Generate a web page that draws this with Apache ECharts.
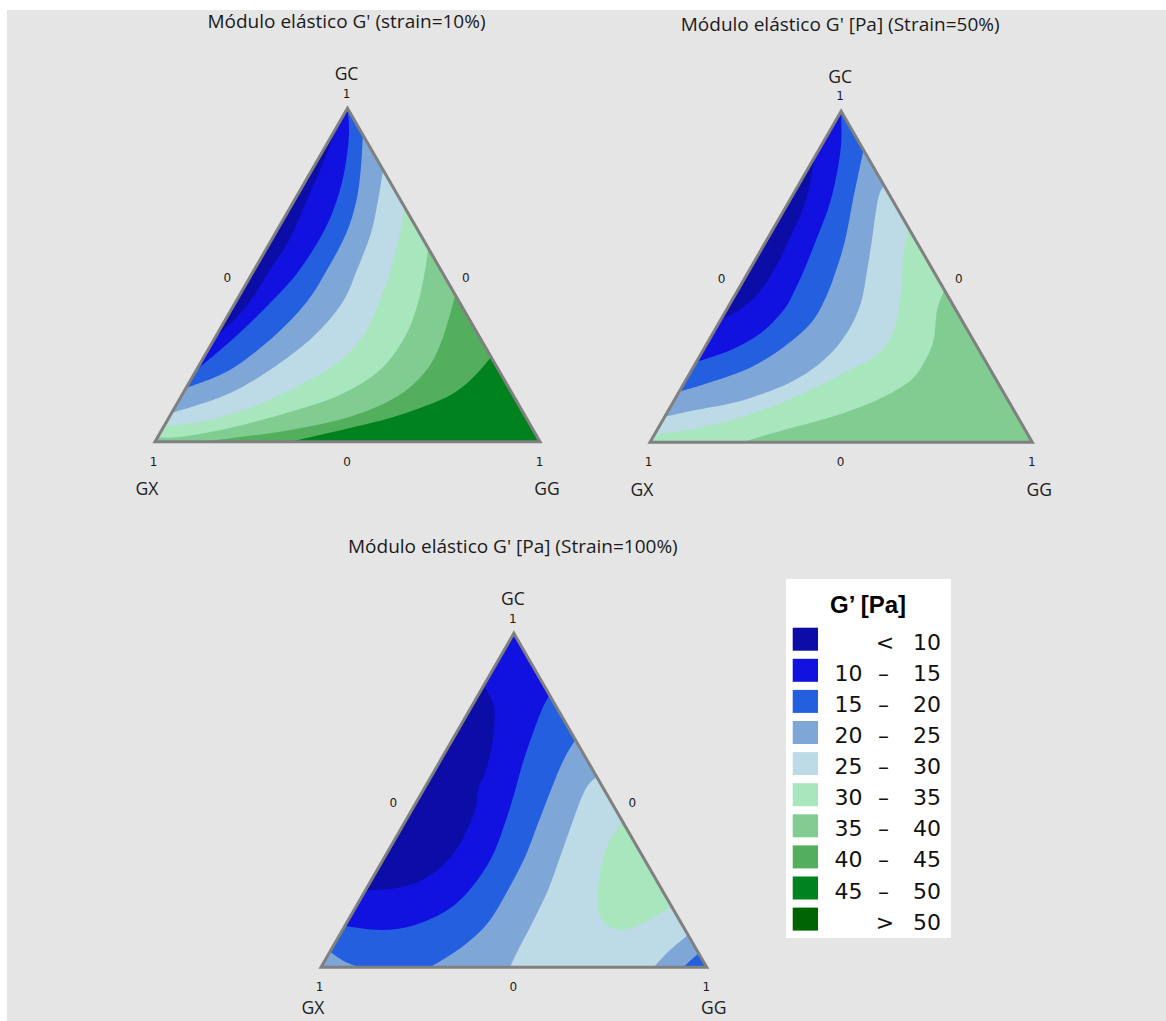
<!DOCTYPE html>
<html>
<head>
<meta charset="utf-8">
<title>Módulo elástico G'</title>
<script src="https://cdn.jsdelivr.net/npm/echarts/dist/echarts.min.js"></script>
<style>
  html, body { margin: 0; padding: 0; background: #ffffff; }
  #chart { width: 1166px; height: 1021px; }
</style>
</head>
<body>
<div id="chart"></div>
<script>
// ---------------------------------------------------------------
// Mixture compositions are written as [GX, GG, GC] fractions.
// ---------------------------------------------------------------
const V_GX = [1, 0, 0];
const V_GG = [0, 1, 0];
const V_GC = [0, 0, 1];

// G' [Pa] classes
const legendTitle = 'G’ [Pa]';
const legendLow  = ['', '10', '15', '20', '25', '30', '35', '40', '45', ''];
const legendSep  = ['<', '–', '–', '–', '–', '–', '–', '–', '–', '>'];
const legendHigh = ['10', '15', '20', '25', '30', '35', '40', '45', '50', '50'];
const bandColors = ['#0c0ca6', '#1111e0', '#245fe0', '#7ea7d8', '#bddbe6',
                    '#a8e6bd', '#81cd91', '#53ae5d', '#00821f', '#006400'];

const plotTitles = [
  "Módulo elástico G' (strain=10%)",
  "Módulo elástico G' [Pa] (Strain=50%)",
  "Módulo elástico G' [Pa] (Strain=100%)"
];
const vertexNames = ['GX', 'GG', 'GC'];
const vertexTicks = ['1', '1', '1'];
const edgeTicks   = ['0', '0', '0'];

// ---- strain 10 %: iso-G' lines (10, 15, ..., 45 Pa) ----
const s10_c10 = [[0.059,0,0.941],[0.138,0.017,0.845],[0.243,0.032,0.725],[0.349,0.046,0.605],[0.444,0.041,0.515],[0.538,0.037,0.425],[0.612,0.023,0.365],[0.686,0,0.314]];
const s10_c15 = [[0,0,1],[0.033,0.041,0.926],[0.094,0.082,0.824],[0.165,0.110,0.725],[0.251,0.123,0.626],[0.374,0.117,0.509],[0.493,0.091,0.416],[0.635,0.051,0.314],[0.785,0,0.215]];
const s10_c20 = [[0,0.08,0.92],[0.053,0.123,0.824],[0.114,0.161,0.725],[0.19,0.184,0.626],[0.296,0.189,0.515],[0.4,0.184,0.416],[0.536,0.150,0.314],[0.698,0.087,0.215],[0.839,0,0.161]];
const s10_c25 = [[0,0.185,0.815],[0.058,0.217,0.725],[0.126,0.248,0.626],[0.218,0.267,0.515],[0.306,0.278,0.416],[0.433,0.253,0.314],[0.594,0.191,0.215],[0.746,0.114,0.14],[0.914,0,0.086]];
const s10_c30 = [[0,0.299,0.701],[0.051,0.323,0.626],[0.13,0.355,0.515],[0.21,0.374,0.416],[0.305,0.381,0.314],[0.409,0.355,0.236],[0.538,0.292,0.17],[0.703,0.196,0.101],[0.854,0.087,0.059],[0.953,0,0.047]];
const s10_c35 = [[0,0.419,0.581],[0.041,0.444,0.515],[0.109,0.475,0.416],[0.194,0.492,0.314],[0.308,0.477,0.215],[0.45,0.41,0.14],[0.605,0.306,0.089],[0.785,0.174,0.041],[0.928,0.058,0.014],[0.987,0,0.013]];
const s10_c40 = [[0,0.56,0.44],[0.094,0.591,0.315],[0.187,0.598,0.215],[0.305,0.56,0.135],[0.456,0.469,0.075],[0.632,0.333,0.035],[0.792,0.197,0.011],[0.875,0.125,0]];
const s10_c45 = [[0,0.746,0.254],[0.048,0.737,0.215],[0.11,0.72,0.17],[0.175,0.691,0.134],[0.261,0.638,0.101],[0.354,0.575,0.071],[0.473,0.486,0.041],[0.649,0.351,0]];

// ---- strain 50 %: iso-G' lines (10 ... 35 Pa) ----
const s50_c10 = [[0.138,0,0.862],[0.226,0.042,0.732],[0.331,0.058,0.611],[0.416,0.064,0.52],[0.48,0.06,0.46],[0.55,0.041,0.409],[0.631,0,0.369]];
const s50_c15 = [[0,0,1],[0.06,0.057,0.883],[0.161,0.107,0.732],[0.26,0.129,0.611],[0.337,0.143,0.52],[0.391,0.149,0.46],[0.45,0.15,0.4],[0.545,0.125,0.33],[0.649,0.072,0.279],[0.757,0,0.243]];
const s50_c20 = [[0,0.117,0.883],[0.052,0.141,0.807],[0.103,0.165,0.732],[0.184,0.205,0.611],[0.253,0.227,0.52],[0.32,0.241,0.439],[0.399,0.241,0.36],[0.506,0.206,0.288],[0.622,0.151,0.227],[0.749,0.069,0.182],[0.847,0,0.153]];
const s50_c25 = [[0,0.223,0.777],[0.038,0.23,0.732],[0.114,0.275,0.611],[0.172,0.308,0.52],[0.238,0.341,0.421],[0.32,0.35,0.33],[0.42,0.331,0.249],[0.54,0.278,0.182],[0.69,0.182,0.128],[0.828,0.074,0.098],[0.923,0,0.077]];
const s50_c30 = [[0,0.353,0.647],[0.044,0.375,0.581],[0.08,0.4,0.52],[0.149,0.451,0.4],[0.211,0.471,0.318],[0.285,0.457,0.258],[0.388,0.403,0.209],[0.523,0.328,0.149],[0.684,0.228,0.088],[0.836,0.118,0.046],[0.978,0,0.022]];
const s50_c35 = [[0,0.54,0.46],[0.049,0.551,0.4],[0.098,0.584,0.318],[0.146,0.596,0.258],[0.223,0.589,0.188],[0.342,0.53,0.128],[0.488,0.436,0.076],[0.631,0.332,0.037],[0.763,0.237,0]];

// ---- strain 100 %: iso-G' lines ----
const s100_c10  = [[0.155,0,0.845],[0.159,0.05,0.791],[0.18,0.08,0.74],[0.227,0.113,0.66],[0.284,0.134,0.582],[0.328,0.141,0.531],[0.365,0.164,0.471],[0.444,0.175,0.381],[0.522,0.166,0.312],[0.608,0.131,0.261],[0.69,0.073,0.237],[0.769,0,0.231]];
const s100_c15  = [[0,0.185,0.815],[0.043,0.187,0.77],[0.109,0.201,0.69],[0.18,0.22,0.6],[0.242,0.242,0.516],[0.307,0.261,0.432],[0.392,0.278,0.33],[0.489,0.271,0.24],[0.585,0.243,0.172],[0.693,0.18,0.127],[0.786,0.102,0.112],[0.876,0,0.124]];
const s100_c20  = [[0,0.319,0.681],[0.052,0.318,0.63],[0.113,0.326,0.561],[0.221,0.347,0.432],[0.306,0.364,0.33],[0.4,0.369,0.231],[0.501,0.366,0.133],[0.604,0.335,0.061],[0.717,0.283,0]];
const s100_c20b = [[0.953,0,0.047],[0.929,0.054,0.017],[0.899,0.101,0]];
const s100_c20c = [[0.061,0.939,0],[0.034,0.947,0.019],[0,0.958,0.042]];
const s100_c25  = [[0,0.429,0.571],[0.05,0.419,0.531],[0.133,0.435,0.432],[0.215,0.455,0.33],[0.296,0.473,0.231],[0.386,0.481,0.133],[0.463,0.485,0.052],[0.51,0.49,0]];
const s100_c25b = [[0.138,0.862,0],[0.076,0.877,0.047],[0,0.903,0.097]];
const s100_c30  = [[0,0.564,0.436],[0.07,0.559,0.371],[0.122,0.577,0.301],[0.167,0.602,0.231],[0.195,0.633,0.172],[0.198,0.67,0.132],[0.173,0.715,0.112],[0.125,0.753,0.122],[0.069,0.784,0.147],[0,0.819,0.181]];

// Filled classes, painted in order. Each region is a chain of parts:
// multi-point parts are iso-lines (drawn smooth), single points are corners.
const regions10 = [
  { band: 0, parts: [[V_GX], [V_GG], [V_GC]] },
  { band: 1, parts: [s10_c10, [V_GX], [V_GG], [V_GC]] },
  { band: 2, parts: [s10_c15, [V_GX], [V_GG]] },
  { band: 3, parts: [s10_c20, [V_GX], [V_GG]] },
  { band: 4, parts: [s10_c25, [V_GX], [V_GG]] },
  { band: 5, parts: [s10_c30, [V_GX], [V_GG]] },
  { band: 6, parts: [s10_c35, [V_GX], [V_GG]] },
  { band: 7, parts: [s10_c40, [V_GG]] },
  { band: 8, parts: [s10_c45, [V_GG]] }
];
const regions50 = [
  { band: 0, parts: [[V_GX], [V_GG], [V_GC]] },
  { band: 1, parts: [s50_c10, [V_GX], [V_GG], [V_GC]] },
  { band: 2, parts: [s50_c15, [V_GX], [V_GG]] },
  { band: 3, parts: [s50_c20, [V_GX], [V_GG]] },
  { band: 4, parts: [s50_c25, [V_GX], [V_GG]] },
  { band: 5, parts: [s50_c30, [V_GX], [V_GG]] },
  { band: 6, parts: [s50_c35, [V_GG]] }
];
const regions100 = [
  { band: 3, parts: [[V_GX], [V_GG], [V_GC]] },
  { band: 2, parts: [s100_c20.slice().reverse(), [V_GC], s100_c20b] },
  { band: 1, parts: [s100_c15, [V_GC]] },
  { band: 0, parts: [s100_c10] },
  { band: 4, parts: [s100_c25, s100_c25b] },
  { band: 5, parts: [s100_c30] },
  { band: 2, parts: [s100_c20c, [V_GG]] }
];

// ---------------------------------------------------------------
const SQ = Math.sqrt(3) / 2;
const plots = [
  { left: 155, top: 108.3, width: 385,   nameDrop: 46.5, regions: regions10 },
  { left: 650, top: 111.2, width: 382.3, nameDrop: 46.5, regions: regions50 },
  { left: 321, top: 633.3, width: 385.7, nameDrop: 40,   regions: regions100 }
];

function toXY(p) { return [p[1] + p[2] / 2, p[2] * SQ]; }
function fmt(p) { return p[0].toFixed(2) + ' ' + p[1].toFixed(2); }

// closed outline of a class region; iso-lines as Catmull-Rom curves
function bandPath(api, parts) {
  let d = '';
  parts.forEach(function (part, k) {
    const pts = part.map(function (p) { return api.coord(toXY(p)); });
    d += (k === 0 ? 'M' : 'L') + fmt(pts[0]);
    if (pts.length === 2) { d += 'L' + fmt(pts[1]); return; }
    for (let i = 0; i < pts.length - 1; i++) {
      const a = pts[Math.max(i - 1, 0)], b = pts[i], c = pts[i + 1];
      const e = pts[Math.min(i + 2, pts.length - 1)];
      const c1 = [b[0] + (c[0] - a[0]) / 6, b[1] + (c[1] - a[1]) / 6];
      const c2 = [c[0] - (e[0] - b[0]) / 6, c[1] - (e[1] - b[1]) / 6];
      d += 'C' + fmt(c1) + ' ' + fmt(c2) + ' ' + fmt(c);
    }
  });
  return d + 'Z';
}

const grids = [], xAxes = [], yAxes = [], series = [];
const edgeMid = [[0.5, 0, 0.5], [0, 0.5, 0.5], [0.5, 0.5, 0]];
const tickOffset = [[-1.5, 20], [-0.5, 20], [-1, -14.8]];
const zeroOffset = [[-24, 2.5], [22, 2.5], [-0.5, 20]];

plots.forEach(function (pl, g) {
  grids.push({ left: pl.left, top: pl.top, width: pl.width, height: pl.width * SQ });
  xAxes.push({ type: 'value', gridIndex: g, min: 0, max: 1, show: false });
  yAxes.push({ type: 'value', gridIndex: g, min: 0, max: SQ, show: false });
  const nameOffset = [[-8, pl.nameDrop], [7, pl.nameDrop], [-1, -35.5]];

  // filled iso-G' classes
  series.push({
    type: 'custom', coordinateSystem: 'cartesian2d', xAxisIndex: g, yAxisIndex: g,
    clip: false, silent: true, z: 2,
    data: pl.regions.map(function (r, i) { return [i, 0]; }),
    renderItem: function (params, api) {
      const r = pl.regions[params.dataIndex];
      return {
        type: 'path',
        shape: { pathData: bandPath(api, r.parts) },
        style: { fill: bandColors[r.band], stroke: null }
      };
    }
  });

  // triangle frame
  series.push({
    type: 'custom', coordinateSystem: 'cartesian2d', xAxisIndex: g, yAxisIndex: g,
    clip: false, silent: true, z: 3,
    data: [[0, 0]],
    renderItem: function (params, api) {
      return {
        type: 'polygon',
        shape: { points: [V_GX, V_GG, V_GC].map(function (p) { return api.coord(toXY(p)); }) },
        style: { fill: 'none', stroke: '#808080', lineWidth: 3, lineJoin: 'miter' }
      };
    }
  });

  // vertex names and 0 / 1 ticks
  series.push({
    type: 'custom', coordinateSystem: 'cartesian2d', xAxisIndex: g, yAxisIndex: g,
    clip: false, silent: true, z: 4,
    data: [0, 1, 2, 3, 4, 5, 6, 7, 8].map(function (i) { return [i, 0]; }),
    renderItem: function (params, api) {
      const i = params.dataIndex, k = i % 3;
      let pos, off, text, font;
      const verts = [V_GX, V_GG, V_GC];
      if (i < 3) { pos = verts[k]; off = nameOffset[k]; text = vertexNames[k]; font = '17.5px "Open Sans"'; }
      else if (i < 6) { pos = verts[k]; off = tickOffset[k]; text = vertexTicks[k]; font = '12px "DejaVu Sans"'; }
      else { pos = edgeMid[k]; off = zeroOffset[k]; text = edgeTicks[k]; font = '12px "DejaVu Sans"'; }
      const c = api.coord(toXY(pos));
      return {
        type: 'text',
        x: c[0] + off[0], y: c[1] + off[1],
        style: { text: text, font: font, fill: '#1a1a1a', align: 'center', verticalAlign: 'middle' }
      };
    }
  });
});

// titles and class legend
const graphics = [
  { type: 'rect', z: -10, shape: { x: 7, y: 10, width: 1159, height: 1011 }, style: { fill: '#e5e5e5' } }
];
plots.forEach(function (pl, g) {
  graphics.push({
    type: 'text', x: pl.left + pl.width / 2 - 1, y: pl.top - 87.5,
    style: { text: plotTitles[g], font: '19px "Open Sans"', fill: '#1a1a1a', align: 'center', verticalAlign: 'middle' }
  });
});
graphics.push({ type: 'rect', shape: { x: 786, y: 579, width: 165, height: 359 }, style: { fill: '#ffffff' } });
graphics.push({
  type: 'text', x: 868, y: 604,
  style: { text: legendTitle, font: 'bold 24px "Liberation Sans", Arial', fill: '#000', align: 'center', verticalAlign: 'middle' }
});
bandColors.forEach(function (col, i) {
  const top = 627.7 + i * 31.1;
  const mid = top + 11.5 + 3;
  graphics.push({ type: 'rect', shape: { x: 792.7, y: top, width: 25.3, height: 23 }, style: { fill: col } });
  const font = '22px "DejaVu Sans"';
  if (legendLow[i]) {
    graphics.push({ type: 'text', x: 862.5, y: mid, style: { text: legendLow[i], font: font, fill: '#111', align: 'right', verticalAlign: 'middle' } });
  }
  graphics.push({ type: 'text', x: legendLow[i] ? 883.5 : 885, y: mid, style: { text: legendSep[i], font: font, fill: '#111', align: 'center', verticalAlign: 'middle' } });
  graphics.push({ type: 'text', x: 941, y: mid, style: { text: legendHigh[i], font: font, fill: '#111', align: 'right', verticalAlign: 'middle' } });
});

const chart = echarts.init(document.getElementById('chart'), null, { renderer: 'svg', width: 1166, height: 1021 });
chart.setOption({
  animation: false,
  backgroundColor: '#ffffff',
  grid: grids,
  xAxis: xAxes,
  yAxis: yAxes,
  graphic: graphics,
  series: series
});
</script>
</body>
</html>
